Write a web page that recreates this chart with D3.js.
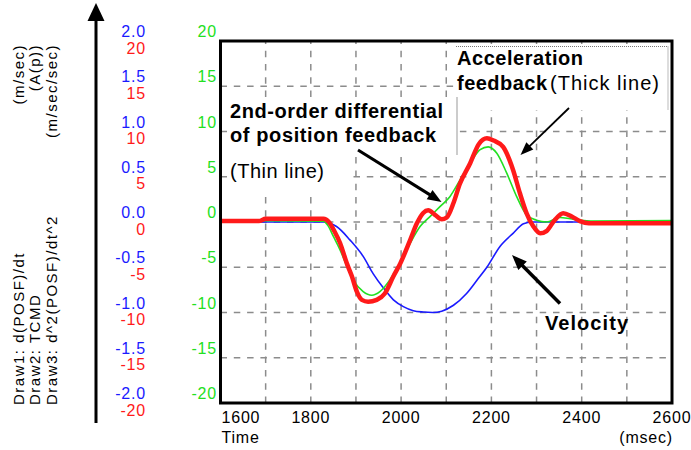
<!DOCTYPE html>
<html lang="en">
<head>
<meta charset="UTF-8">
<script src="https://d3js.org/d3.v7.min.js"></script>
<style>
    body { margin: 0; background: #fff; }
    text { font-family: "Liberation Sans", Arial, sans-serif; }
</style>
</head>
<body>
<script>

    // time axis (msec)
    var timeDomain = [1600, 2600];
    var timeLabels = [1600, 1800, 2000, 2200, 2400, 2600];

    // left scales
    var greenTicks = [20, 15, 10, 5, 0, -5, -10, -15, -20];
    var blueTicks = [2.0, 1.5, 1.0, 0.5, 0.0, -0.5, -1.0, -1.5, -2.0];
    var redTicks = [20, 15, 10, 5, 0, -5, -10, -15, -20];

    var drawNames = ["Draw1: d(POSF)/dt", "Draw2: TCMD", "Draw3: d^2(POSF)/dt^2"];
    var drawUnits = ["(m/sec)", "(A(p))", "(m/sec/sec)"];

    // Draw1 velocity, m/sec  [time, value]
    var velocity = [
        [1600, 0], [1828, 0], [1842, -0.015], [1857, -0.05], [1887, -0.2], [1916, -0.38],
        [1938, -0.57], [1961, -0.73], [1983, -0.86], [2005, -0.935], [2027, -0.98],
        [2049, -0.995], [2070, -1.0], [2090, -0.985], [2116, -0.92], [2145, -0.79],
        [2170, -0.63], [2190, -0.5], [2219, -0.27], [2248, -0.125], [2271, -0.02],
        [2290, 0], [2600, 0]
    ];

    // Draw2 TCMD (thick line)
    var tcmd = [
        [1600, 0.1], [1685, 0.1], [1700, 0.35], [1828, 0.35], [1840, 0.0], [1852, -1.0],
        [1865, -2.35], [1880, -4.6], [1891, -6.0], [1902, -7.7], [1913, -8.6], [1927, -8.8],
        [1946, -8.6], [1964, -7.9], [1983, -6.0], [1998, -4.6], [2020, -2.0], [2035, -0.15],
        [2049, 1.0], [2060, 1.3], [2075, 0.8], [2090, 0.3], [2101, 0.5], [2116, 2.1],
        [2130, 4.2], [2153, 6.5], [2172, 8.6], [2190, 9.25], [2205, 9.0], [2226, 8.3],
        [2248, 5.75], [2263, 3.2], [2278, 0.96], [2293, -0.5], [2308, -1.25], [2322, -1.0],
        [2340, 0.2], [2359, 0.96], [2378, 0.6], [2396, 0.1], [2416, -0.15], [2600, -0.15]
    ];

    // Draw3 d^2(POSF)/dt^2 (thin line)
    var accel = [
        [1600, 0.1], [1700, 0.15], [1828, 0.1], [1838, -0.4], [1850, -1.6], [1865, -3.1],
        [1880, -4.9], [1894, -6.4], [1916, -7.7], [1935, -8.1], [1953, -7.7], [1975, -6.4],
        [1992, -5.0], [2020, -2.35], [2042, -0.5], [2064, 0.6], [2086, 1.7], [2108, 2.8],
        [2130, 4.6], [2153, 6.5], [2175, 8.0], [2193, 8.3], [2212, 7.6], [2234, 5.4],
        [2256, 2.8], [2278, 0.77], [2300, 0.2], [2322, 0.0], [2352, 0.5], [2375, 0.35],
        [2396, 0.2], [2420, 0.1], [2600, 0.15]
    ];

    var width = 691;
    var height = 450;
    var plotLeft = 220.5, plotRight = 672, plotTop = 41, plotBottom = 403;

    var blue = "#1a1aff", red = "#ff1a1a", green = "#22e022";
    var gridColor = "#8c8c8c";

    var svg = d3.select("body").append("svg")
        .attr("width", width)
        .attr("height", height);

    var x = d3.scaleLinear().domain(timeDomain).range([plotLeft, plotRight]);
    var y = d3.scaleLinear().domain([-20, 20]).range([plotBottom, plotTop]);
    var yVel = d3.scaleLinear().domain([-2, 2]).range([plotBottom, plotTop]);

    // grid
    var grid = svg.append("g");
    grid.selectAll(".vgrid")
        .data(x.ticks(10).filter(function (d) { return d > timeDomain[0] && d < timeDomain[1]; }))
        .enter().append("line")
        .attr("x1", function (d) { return x(d); })
        .attr("x2", function (d) { return x(d); })
        .attr("y1", plotBottom)
        .attr("y2", plotTop)
        .attr("stroke", gridColor)
        .attr("stroke-width", 1.5)
        .attr("stroke-dasharray", "6.5,6.8");

    grid.selectAll(".hgrid")
        .data(greenTicks.filter(function (d) { return d > -20 && d < 20; }))
        .enter().append("line")
        .attr("x1", plotLeft)
        .attr("x2", plotRight)
        .attr("y1", function (d) { return y(d); })
        .attr("y2", function (d) { return y(d); })
        .attr("stroke", gridColor)
        .attr("stroke-width", 1.5)
        .attr("stroke-dasharray", "6.5,6.8");

    // white label boxes hiding the grid
    svg.append("rect").attr("x", 456).attr("y", 46).attr("width", 212).attr("height", 64).attr("fill", "#fff");
    svg.append("rect").attr("x", 227).attr("y", 97).attr("width", 230).attr("height", 58).attr("fill", "#fff");
    svg.append("rect").attr("x", 227).attr("y", 155).attr("width", 125).attr("height", 37).attr("fill", "#fff");
    svg.append("path")
        .attr("d", "M456,46.5H668V110")
        .attr("fill", "none")
        .attr("stroke", "#777")
        .attr("stroke-width", 1)
        .attr("stroke-dasharray", "1,1");
    svg.append("line")
        .attr("x1", 457).attr("x2", 457).attr("y1", 97).attr("y2", 155)
        .attr("stroke", "#999").attr("stroke-width", 1);

    // series
    svg.append("clipPath").attr("id", "plotClip")
        .append("rect").attr("x", plotLeft).attr("y", plotTop)
        .attr("width", plotRight - plotLeft).attr("height", plotBottom - plotTop);

    var plot = svg.append("g").attr("clip-path", "url(#plotClip)");

    var lineVel = d3.line()
        .x(function (d) { return x(d[0]); })
        .y(function (d) { return yVel(d[1]); })
        .curve(d3.curveMonotoneX);
    var line = d3.line()
        .x(function (d) { return x(d[0]); })
        .y(function (d) { return y(d[1]); })
        .curve(d3.curveMonotoneX);

    plot.append("path").datum(velocity)
        .attr("d", lineVel).attr("fill", "none")
        .attr("stroke", blue).attr("stroke-width", 1.6);
    plot.append("path").datum(accel)
        .attr("d", line).attr("fill", "none")
        .attr("stroke", green).attr("stroke-width", 1.6);
    plot.append("path").datum(tcmd)
        .attr("d", line).attr("fill", "none")
        .attr("stroke", red).attr("stroke-width", 4.5)
        .attr("stroke-linejoin", "round");

    // frame
    svg.append("rect")
        .attr("x", plotLeft).attr("y", plotTop)
        .attr("width", plotRight - plotLeft).attr("height", plotBottom - plotTop)
        .attr("fill", "none").attr("stroke", "#000").attr("stroke-width", 3);

    // tick labels
    svg.selectAll(".greenLabel")
        .data(greenTicks).enter().append("text")
        .attr("x", 217)
        .attr("y", function (d) { return y(d) - 4; })
        .attr("text-anchor", "end")
        .attr("fill", green)
        .style("font-size", "16px")
        .style("letter-spacing", "0.8px")
        .text(function (d) { return d; });

    svg.selectAll(".blueLabel")
        .data(blueTicks).enter().append("text")
        .attr("x", 146)
        .attr("y", function (d) { return yVel(d) - 4; })
        .attr("text-anchor", "end")
        .attr("fill", blue)
        .style("font-size", "16px")
        .style("letter-spacing", "0.8px")
        .text(function (d) { return d3.format(".1f")(d).replace("−", "-"); });

    svg.selectAll(".redLabel")
        .data(redTicks).enter().append("text")
        .attr("x", 146)
        .attr("y", function (d) { return y(d) + 12.5; })
        .attr("text-anchor", "end")
        .attr("fill", red)
        .style("font-size", "16px")
        .style("letter-spacing", "0.8px")
        .text(function (d) { return d; });

    svg.selectAll(".timeLabel")
        .data(timeLabels).enter().append("text")
        .attr("x", function (d, i) { return i === 0 ? plotLeft + 1 : x(d); })
        .attr("y", 423)
        .attr("text-anchor", function (d, i) { return i === 0 ? "start" : "middle"; })
        .attr("fill", "#000")
        .style("font-size", "16px")
        .style("letter-spacing", "0.8px")
        .text(function (d) { return d; });

    svg.append("text")
        .attr("x", plotLeft + 1).attr("y", 443)
        .style("font-size", "16px").style("letter-spacing", "0.8px")
        .text("Time");
    svg.append("text")
        .attr("x", 673).attr("y", 443)
        .attr("text-anchor", "end")
        .style("font-size", "16px").style("letter-spacing", "0.8px")
        .text("(msec)");

    // rotated legend on the left
    var legendX = [23.5, 40, 57];
    svg.selectAll(".drawName")
        .data(drawNames).enter().append("text")
        .attr("transform", function (d, i) { return "translate(" + legendX[i] + ",405) rotate(-90)"; })
        .style("font-size", "15px")
        .style("letter-spacing", "1.5px")
        .text(function (d) { return d; });
    svg.selectAll(".drawUnit")
        .data(drawUnits).enter().append("text")
        .attr("transform", function (d, i) { return "translate(" + legendX[i] + ",44) rotate(-90)"; })
        .attr("text-anchor", "end")
        .style("font-size", "15px")
        .style("letter-spacing", "1.5px")
        .text(function (d) { return d; });

    // vertical arrow
    svg.append("line")
        .attr("x1", 96).attr("x2", 96).attr("y1", 18).attr("y2", 423)
        .attr("stroke", "#000").attr("stroke-width", 3);
    svg.append("path")
        .attr("d", "M96,3L87.5,21L104.5,21Z")
        .attr("fill", "#000");

    // annotations
    function label(x0, y0, parts) {
        var t = svg.append("text").attr("x", x0).attr("y", y0).style("font-size", "20px");
        parts.forEach(function (p) {
            t.append("tspan")
                .attr("font-weight", p[1] ? "bold" : "normal")
                .text(p[0]);
        });
        return t;
    }

    label(457, 64.7, [["Acceleration", true]]).attr("textLength", 126);
    label(457, 90.3, [["feedback", true]]).attr("textLength", 90);
    label(550, 90.3, [["(Thick line)", false]]).attr("textLength", 109);
    label(230, 117.7, [["2nd-order differential", true]]).attr("textLength", 213);
    label(230, 141.7, [["of position feedback", true]]).attr("textLength", 206);
    label(230, 178.3, [["(Thin line)", false]]).attr("textLength", 94);
    label(545, 330, [["Velocity", true]]).attr("textLength", 83);

    function arrow(x1, y1, x2, y2, w, headLen, headW) {
        var ang = Math.atan2(y2 - y1, x2 - x1);
        var bx = x2 - headLen * Math.cos(ang), by = y2 - headLen * Math.sin(ang);
        var px = -Math.sin(ang) * headW / 2, py = Math.cos(ang) * headW / 2;
        svg.append("line")
            .attr("x1", x1).attr("y1", y1).attr("x2", bx + Math.cos(ang)).attr("y2", by + Math.sin(ang))
            .attr("stroke", "#000").attr("stroke-width", w);
        svg.append("path")
            .attr("d", "M" + x2 + "," + y2 + "L" + (bx + px) + "," + (by + py) + "L" + (bx - px) + "," + (by - py) + "Z")
            .attr("fill", "#000");
    }

    arrow(358, 150, 441.5, 202, 3, 14, 11);
    arrow(569, 108, 520.5, 155, 1.8, 13, 10);
    arrow(560, 303.5, 512, 255, 3.5, 15, 12);

</script>
</body>
</html>
